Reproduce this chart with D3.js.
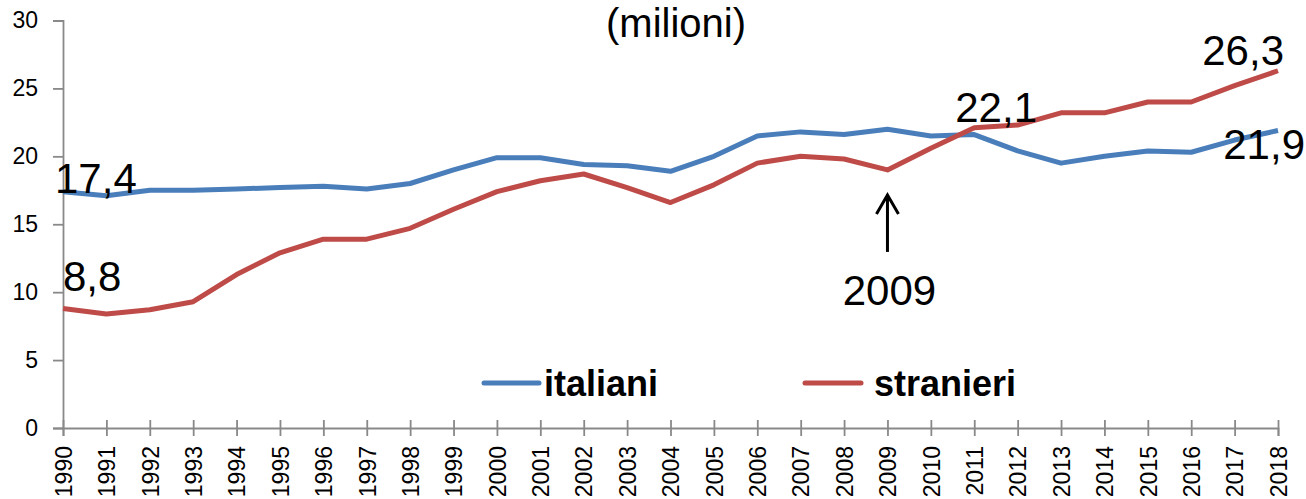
<!DOCTYPE html>
<html>
<head>
<meta charset="utf-8">
<script src="https://cdn.jsdelivr.net/npm/d3@7/dist/d3.min.js"></script>
<style>
  html, body { margin: 0; padding: 0; background: #fff; }
  svg { display: block; font-family: "Liberation Sans", Arial, sans-serif; }
  .tick text { font-size: 23px; fill: #000; font-family: "Liberation Sans", Arial, sans-serif; }
</style>
</head>
<body>
<svg id="chart" width="1306" height="499"></svg>
<script>
// ---- Data ----
const years = d3.range(1990, 2019);
const italiani = [17.4, 17.1, 17.5, 17.5, 17.6, 17.7, 17.8, 17.6, 18.0, 19.0, 19.9, 19.9, 19.4, 19.3, 18.9,
                  20.0, 21.5, 21.8, 21.6, 22.0, 21.5, 21.6, 20.4, 19.5, 20.0, 20.4, 20.3, 21.2, 21.9];
const stranieri = [8.8, 8.4, 8.7, 9.3, 11.3, 12.9, 13.9, 13.9, 14.7, 16.1, 17.4, 18.2, 18.7, 17.7, 16.6,
                   17.9, 19.5, 20.0, 19.8, 19.0, 20.6, 22.1, 22.3, 23.2, 23.2, 24.0, 24.0, 25.2, 26.3];
const yTicks = [0, 5, 10, 15, 20, 25, 30];
const seriesNames = ["italiani", "stranieri"];
const title = "(milioni)";
const annotations = [
  { series: "italiani", year: 1990, text: "17,4" },
  { series: "stranieri", year: 1990, text: "8,8" },
  { series: "stranieri", year: 2011, text: "22,1" },
  { series: "stranieri", year: 2018, text: "26,3" },
  { series: "italiani", year: 2018, text: "21,9" }
];
const markYear = 2009;

// ---- Setup ----
const colors = { italiani: "#4a7ebb", stranieri: "#be4b48" };
const svg = d3.select("#chart");
const x = d3.scaleLinear().domain([1990, 2018]).range([63, 1278]);
const y = d3.scaleLinear().domain([0, 30]).range([428, 20.5]);
const dataBy = { italiani, stranieri };

// Title
svg.append("text").attr("x", 676).attr("y", 37).attr("text-anchor", "middle")
  .attr("font-size", 40).attr("fill", "#000").text(title);

// Y axis
const yAxis = svg.append("g").attr("transform", `translate(${x(1990)},0)`)
  .call(d3.axisLeft(y).tickValues(yTicks).tickSize(10).tickPadding(15).tickFormat(d3.format("d")));
yAxis.attr("font-size", null).attr("font-family", null);
yAxis.select(".domain").attr("stroke", "#898989").attr("stroke-width", 1.8);
yAxis.selectAll(".tick line").attr("stroke", "#898989").attr("stroke-width", 1.8);

// X axis
const xAxis = svg.append("g").attr("transform", `translate(0,${y(0)})`)
  .call(d3.axisBottom(x).tickValues(years).tickSize(8).tickFormat(d3.format("d")));
xAxis.attr("font-size", null).attr("font-family", null);
xAxis.select(".domain").attr("stroke", "#898989").attr("stroke-width", 1.8);
xAxis.selectAll(".tick line").attr("stroke", "#898989").attr("stroke-width", 1.8).attr("y1", -8).attr("y2", 8);
xAxis.selectAll(".tick text")
  .attr("text-anchor", "end")
  .attr("transform", "translate(0,18) rotate(-90)")
  .attr("x", 0).attr("y", 0).attr("dy", "0.36em");

// Lines
const line = d3.line().x((d, i) => x(years[i])).y(d => y(d));
seriesNames.forEach(name => {
  svg.append("path").datum(dataBy[name])
    .attr("fill", "none").attr("stroke", colors[name])
    .attr("stroke-width", 5).attr("stroke-linejoin", "round").attr("stroke-linecap", "butt")
    .attr("d", line);
});

// Annotations (offsets relative to data points)
const offsets = {
  "17,4": { dx: -8, dy: 1, anchor: "start" },
  "8,8": { dx: 0, dy: -17, anchor: "start" },
  "22,1": { dx: -19, dy: -6, anchor: "start" },
  "26,3": { dx: 6, dy: -6, anchor: "end" },
  "21,9": { dx: 27, dy: 28, anchor: "end" }
};
annotations.forEach(a => {
  const v = dataBy[a.series][years.indexOf(a.year)];
  const o = offsets[a.text];
  svg.append("text").attr("x", x(a.year) + o.dx).attr("y", y(v) + o.dy)
    .attr("text-anchor", o.anchor).attr("font-size", 42).attr("fill", "#000").text(a.text);
});

// 2009 arrow
const vMark = stranieri[years.indexOf(markYear)];
const ax = x(markYear), aTop = y(vMark) + 25, aBot = y(vMark) + 82;
svg.append("line").attr("x1", ax).attr("x2", ax).attr("y1", aTop + 2).attr("y2", aBot)
  .attr("stroke", "#000").attr("stroke-width", 3);
svg.append("path").attr("d", `M${ax - 11},${aTop + 19} L${ax},${aTop} L${ax + 11},${aTop + 19}`)
  .attr("fill", "none").attr("stroke", "#000").attr("stroke-width", 3);
svg.append("text").attr("x", ax + 2).attr("y", 305).attr("text-anchor", "middle")
  .attr("font-size", 42).attr("fill", "#000").text(String(markYear));

// Legend
const legendItems = [
  { name: "italiani", x1: 484, x2: 539, tx: 544 },
  { name: "stranieri", x1: 805, x2: 861, tx: 874 }
];
legendItems.forEach(l => {
  svg.append("line").attr("x1", l.x1).attr("x2", l.x2).attr("y1", 383).attr("y2", 383)
    .attr("stroke", colors[l.name]).attr("stroke-width", 5).attr("stroke-linecap", "round");
  svg.append("text").attr("x", l.tx).attr("y", 396).attr("font-size", 36)
    .attr("font-weight", "bold").attr("fill", "#000").text(l.name);
});
</script>
</body>
</html>
